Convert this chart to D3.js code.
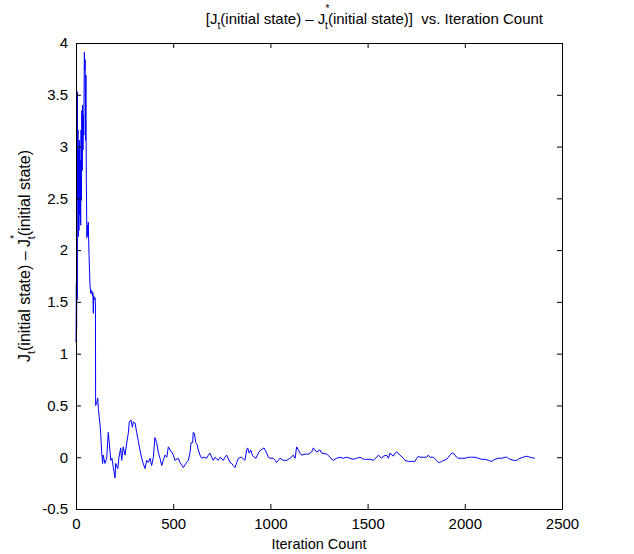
<!DOCTYPE html>
<html>
<head>
<meta charset="utf-8">
<script src="https://cdn.jsdelivr.net/npm/d3@7"></script>
<style>
  body { margin: 0; background: #fff; }
  svg { display: block; font-family: "Liberation Sans", Arial, Helvetica, sans-serif; }
</style>
</head>
<body>
<div id="chart"></div>
<script>
// Iteration count and the difference J_t - J*_t
var iterations = [0, 2, 3, 5, 6, 7, 9, 10, 12, 14, 15, 17, 20, 22, 24, 26, 28, 30, 32, 34,
  36, 38, 40, 43, 45, 47, 49, 51, 53, 56, 59, 62, 63, 67, 72, 76, 81, 85, 87, 89,
  91, 94, 98, 100, 101, 106, 112, 115, 120, 123, 127, 132, 137, 140, 149, 158, 166, 171, 179, 185,
  192, 201, 204, 215, 221, 230, 235, 243, 252, 261, 269, 274, 283, 290, 295, 304, 312, 320, 329, 338,
  346, 355, 364, 372, 381, 389, 398, 406, 415, 423, 432, 441, 449, 458, 467, 475, 484, 492, 501, 509,
  526, 535, 552, 569, 578, 586, 592, 600, 603, 609, 616, 624, 629, 638, 647, 655, 672, 681, 689, 698,
  706, 715, 732, 741, 758, 766, 775, 792, 801, 809, 818, 827, 835, 852, 869, 878, 883, 891, 899, 907,
  916, 926, 933, 941, 950, 960, 967, 981, 989, 998, 1015, 1024, 1032, 1041, 1049, 1066, 1084, 1101, 1118, 1127,
  1135, 1144, 1152, 1161, 1178, 1195, 1212, 1221, 1229, 1238, 1255, 1264, 1290, 1307, 1315, 1324, 1341, 1358, 1375, 1392,
  1409, 1426, 1444, 1461, 1478, 1495, 1512, 1529, 1547, 1555, 1573, 1581, 1598, 1607, 1615, 1632, 1641, 1650, 1667, 1684,
  1692, 1709, 1727, 1744, 1753, 1761, 1770, 1787, 1804, 1812, 1821, 1838, 1855, 1864, 1872, 1881, 1907, 1924, 1933, 1941,
  1958, 1967, 1984, 2001, 2018, 2035, 2053, 2069, 2087, 2104, 2121, 2138, 2155, 2172, 2190, 2207, 2216, 2224, 2233, 2250,
  2267, 2284, 2301, 2318, 2335, 2360]

var differences = [1.11, 1.68, 1.23, 2.12, 1.52, 3.53, 2.48, 3.16, 2.13, 2.97, 2.19, 3.06, 2.34, 2.87, 2.24, 3.16, 2.48, 3.35, 2.77, 3.40,
  2.97, 3.30, 3.11, 3.91, 3.74, 3.84, 3.06, 3.69, 2.68, 2.12, 2.24, 2.14, 2.27, 1.95, 1.66, 1.58, 1.61, 1.56, 1.59, 1.39,
  1.56, 1.52, 1.54, 1.47, 0.50, 0.52, 0.57, 0.47, 0.38, 0.33, 0.23, 0.05, -0.06, 0.02, -0.06, -0.01, 0.24, 0.14, -0.03, -0.01,
  -0.10, -0.20, -0.06, -0.11, 0.00, 0.09, -0.03, 0.10, 0.02, 0.14, 0.23, 0.34, 0.36, 0.29, 0.34, 0.33, 0.24, 0.16, 0.07, -0.01,
  -0.06, -0.11, -0.03, -0.05, -0.01, -0.08, 0.00, 0.19, 0.14, 0.05, -0.01, -0.08, -0.03, 0.02, 0.00, 0.10, 0.07, 0.05, 0.02, -0.03,
  -0.01, -0.05, -0.10, -0.05, -0.03, 0.04, 0.14, 0.14, 0.24, 0.23, 0.14, 0.12, 0.07, 0.02, -0.01, 0.00, -0.01, 0.02, 0.04, 0.00,
  -0.03, 0.00, -0.03, 0.00, -0.03, 0.00, 0.02, -0.05, -0.06, -0.08, -0.10, -0.05, -0.01, 0.00, -0.03, 0.07, 0.09, 0.04, 0.07, 0.02,
  0.00, -0.01, 0.02, 0.05, 0.07, 0.08, 0.09, 0.04, 0.00, -0.01, -0.01, -0.03, -0.05, -0.03, -0.01, -0.03, -0.03, -0.01, 0.02, -0.01,
  0.10, 0.07, 0.04, 0.02, 0.03, 0.03, 0.05, 0.09, 0.07, 0.05, 0.07, 0.04, 0.03, 0.00, -0.02, -0.03, -0.01, 0.00, -0.01, 0.00,
  -0.01, -0.02, -0.01, 0.00, -0.02, -0.02, -0.02, -0.03, 0.00, 0.02, -0.01, 0.01, 0.02, -0.01, 0.04, 0.01, 0.04, 0.05, 0.02, -0.01,
  -0.03, -0.04, -0.04, -0.04, -0.01, 0.01, 0.00, 0.00, 0.00, 0.02, 0.00, 0.00, -0.03, -0.05, -0.05, -0.04, -0.02, 0.02, 0.04, 0.04,
  0.00, -0.01, -0.01, -0.01, 0.00, 0.00, 0.00, -0.01, -0.02, -0.02, -0.03, -0.04, -0.02, -0.01, -0.01, 0.00, 0.00, -0.01, -0.02, -0.03,
  -0.03, -0.01, 0.00, 0.01, 0.00, -0.01]

var xTicks = [0, 500, 1000, 1500, 2000, 2500]
var yTicks = [-0.5, 0, 0.5, 1, 1.5, 2, 2.5, 3, 3.5, 4]

var margin = { left: 76, right: 72, top: 43, bottom: 45 }
var width = 634 - margin.left - margin.right
var height = 554 - margin.top - margin.bottom

var svg = d3.select("#chart")
    .append("svg")
        .attr("width", 634)
        .attr("height", 554)

var g = svg.append("g")
    .attr("transform", "translate(" + margin.left + ", " + margin.top + ")")

var x = d3.scaleLinear().domain([0, 2500]).range([0, width])
var y = d3.scaleLinear().domain([-0.5, 4]).range([height, 0])

// the line
var points = iterations.map(function(d, i) { return [d, differences[i]] })
var line = d3.line()
    .x(function(d) { return x(d[0]) })
    .y(function(d) { return y(d[1]) })

g.append("path")
    .datum(points)
    .attr("fill", "none")
    .attr("stroke", "#0000ff")
    .attr("stroke-width", 1)
    .attr("d", line)

// axes, ticks point inwards on all four sides
var fmt = function(d) { return d }
g.append("g")
    .attr("transform", "translate(0," + height + ")")
    .call(d3.axisBottom(x).tickValues(xTicks).tickSizeInner(-5).tickSizeOuter(0).tickPadding(9).tickFormat(fmt))
g.append("g")
    .call(d3.axisTop(x).tickValues(xTicks).tickSizeInner(-5).tickSizeOuter(0).tickFormat(""))
g.append("g")
    .call(d3.axisLeft(y).tickValues(yTicks).tickSizeInner(-5).tickSizeOuter(0).tickPadding(8).tickFormat(fmt))
g.append("g")
    .attr("transform", "translate(" + width + ",0)")
    .call(d3.axisRight(y).tickValues(yTicks).tickSizeInner(-5).tickSizeOuter(0).tickFormat(""))

g.selectAll(".domain").attr("stroke", "#000").attr("stroke-width", 1)
g.selectAll(".tick line").attr("stroke", "#000")
g.selectAll(".tick text")
    .attr("fill", "#000")
    .style("font-size", "15px")
    .style("font-family", "\"Liberation Sans\", Arial, sans-serif")

// x label
svg.append("text")
    .attr("x", margin.left + width / 2)
    .attr("y", 549)
    .attr("text-anchor", "middle")
    .style("font-size", "14.5px")
    .text("Iteration Count")

// helper that writes J_t(...) - J*_t(...) with sub/superscripts
function jText(sel, before, after, size) {
    var s = size * 0.68
    sel.append("tspan").text(before + "J")
    sel.append("tspan").attr("dy", 5).style("font-size", s + "px").text("t")
    sel.append("tspan").attr("dy", -5).text("(initial state) \u2013 J")
    sel.append("tspan").attr("dy", -12).style("font-size", s + "px").text("*")
    sel.append("tspan").attr("dx", -s * 0.42).attr("dy", 17).style("font-size", s + "px").text("t")
    sel.append("tspan").attr("dy", -5).text("(initial state)" + after)
}

// title
var title = svg.append("text")
    .attr("x", 543)
    .attr("y", 24)
    .attr("text-anchor", "end")
    .style("font-size", "15px")
    .style("white-space", "pre")
jText(title, "[", "]  vs. Iteration Count", 15)

// y label
var ylab = svg.append("text")
    .attr("transform", "translate(30,256) rotate(-90)")
    .attr("text-anchor", "middle")
    .style("font-size", "16px")
jText(ylab, "", "", 16)
</script>
</body>
</html>
